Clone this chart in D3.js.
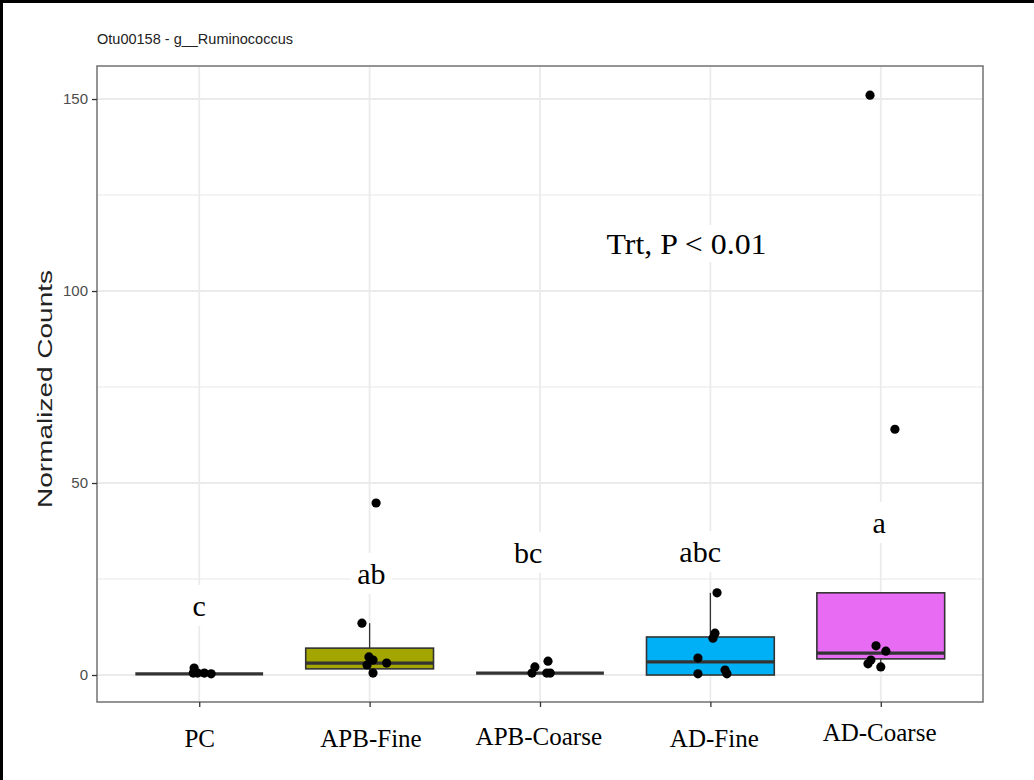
<!DOCTYPE html>
<html>
<head>
<meta charset="utf-8">
<script src="https://cdn.jsdelivr.net/npm/d3@7"></script>
<style>
html,body{margin:0;padding:0;background:#fff;}
svg{display:block;}
</style>
</head>
<body>
<svg id="chart" width="1034" height="780"></svg>
<script>
// ---- data ----
const categories = ["PC", "APB-Fine", "APB-Coarse", "AD-Fine", "AD-Coarse"];
const fills = ["#F8766D", "#A3A500", "#00BF7D", "#00B0F6", "#E76BF3"];
const q1 = [0.3, 1.6, 0.5, 0.0, 4.2];
const medians = [0.3, 3.1, 0.5, 3.4, 5.7];
const q3 = [0.3, 7.0, 0.5, 9.9, 21.4];
const whiskerLo = [0.3, 0.5, 0.5, 0.0, 2.1];
const whiskerHi = [0.3, 13.5, 0.5, 21.4, 21.4];
// jittered points: values and x-jitter (in category units)
const pointValues = [
  [1.8, 0.5, 0.5, 0.5, 0.3],
  [13.5, 4.7, 3.9, 2.6, 3.1, 0.5, 44.8],
  [2.1, 0.5, 3.6, 0.5, 0.5],
  [21.4, 10.9, 9.6, 4.4, 0.3, 1.3, 0.3],
  [151.0, 64.0, 7.6, 6.2, 3.9, 2.9, 2.1]
];
const pointJitter = [
  [-0.03, -0.035, -0.01, 0.03, 0.07],
  [-0.045, -0.004, 0.02, -0.015, 0.10, 0.02, 0.038],
  [-0.03, -0.047, 0.047, 0.04, 0.06],
  [0.039, 0.027, 0.015, -0.073, -0.073, 0.086, 0.097],
  [-0.063, 0.083, -0.028, 0.03, -0.058, -0.075, 0.0]
];
const letters = ["c", "ab", "bc", "abc", "a"];
const letterY = [15.4, 23.7, 29.2, 29.4, 37.0];
const letterShift = [0.0, 0.01, -0.07, -0.06, -0.01];
const xLabelShift = [0.0, 0.005, -0.01, 0.02, -0.01];
const xLabelRaise = [0, 0, 2, 0, 6];
const yTicks = [0, 50, 100, 150];
const yMinor = [25, 75, 125];
const titleText = "Otu00158 - g__Ruminococcus";
const yTitle = "Normalized Counts";
const statText = "Trt, P < 0.01";
const statPos = [2.86, 109.6];

// ---- layout ----
const svg = d3.select("#chart");
const P = {left: 97, right: 983, top: 66, bottom: 702};

const x = d3.scalePoint().domain(categories).range([P.left, P.right]).padding(0.6);
const step = x.step();
const xc = v => x(categories[0]) + v * step;
const y = d3.scaleLinear().domain([-7.03, 158.6]).range([P.bottom, P.top]);

// outer frame (top & left)
svg.append("line").attr("x1", 1.5).attr("x2", 1.5).attr("y1", 0).attr("y2", 780).attr("stroke", "#000").attr("stroke-width", 3);
svg.append("line").attr("x1", 0).attr("x2", 1034).attr("y1", 1.5).attr("y2", 1.5).attr("stroke", "#000").attr("stroke-width", 3);

// panel background
svg.append("rect").attr("x", P.left).attr("y", P.top).attr("width", P.right - P.left).attr("height", P.bottom - P.top).attr("fill", "#fff");

// gridlines
const g = svg.append("g");
g.selectAll(".minor").data(yMinor).join("line")
  .attr("x1", P.left).attr("x2", P.right)
  .attr("y1", d => y(d)).attr("y2", d => y(d))
  .attr("stroke", "#efefef").attr("stroke-width", 1.3);
g.selectAll(".major").data(yTicks).join("line")
  .attr("x1", P.left).attr("x2", P.right)
  .attr("y1", d => y(d)).attr("y2", d => y(d))
  .attr("stroke", "#ebebeb").attr("stroke-width", 1.8);
g.selectAll(".vgrid").data(categories).join("line")
  .attr("x1", d => x(d)).attr("x2", d => x(d))
  .attr("y1", P.top).attr("y2", P.bottom)
  .attr("stroke", "#ebebeb").attr("stroke-width", 1.8);

// annotation letters with white backgrounds
const ann = svg.append("g");
letters.forEach((t, i) => {
  const tx = ann.append("text")
    .attr("x", xc(i + letterShift[i])).attr("y", y(letterY[i]))
    .attr("text-anchor", "middle")
    .attr("font-family", "'Liberation Serif','Times New Roman',serif")
    .attr("font-size", 30).attr("fill", "#000").text(t);
  const bb = tx.node().getBBox();
  ann.insert("rect", "text").attr("x", bb.x - 6).attr("y", bb.y - 4).attr("width", bb.width + 12).attr("height", bb.height + 8).attr("fill", "#fff");
});
{
  const tx = ann.append("text")
    .attr("x", xc(statPos[0])).attr("y", y(statPos[1]))
    .attr("text-anchor", "middle")
    .attr("font-family", "'Liberation Serif','Times New Roman',serif")
    .attr("font-size", 30).attr("fill", "#000")
    .attr("textLength", 160).attr("lengthAdjust", "spacingAndGlyphs").text(statText);
  const bb = tx.node().getBBox();
  ann.insert("rect", "text").attr("x", bb.x - 4).attr("y", bb.y - 2).attr("width", bb.width + 8).attr("height", bb.height + 4).attr("fill", "#fff");
}

// boxplots
const bw = step * 0.75;
const boxes = svg.append("g");
categories.forEach((c, i) => {
  const cx = x(c);
  boxes.append("line").attr("x1", cx).attr("x2", cx).attr("y1", y(q3[i])).attr("y2", y(whiskerHi[i])).attr("stroke", "#333").attr("stroke-width", 1.3);
  boxes.append("line").attr("x1", cx).attr("x2", cx).attr("y1", y(q1[i])).attr("y2", y(whiskerLo[i])).attr("stroke", "#333").attr("stroke-width", 1.3);
  boxes.append("rect").attr("x", cx - bw / 2).attr("width", bw)
    .attr("y", y(q3[i])).attr("height", Math.max(0, y(q1[i]) - y(q3[i])))
    .attr("fill", fills[i]).attr("stroke", "#333").attr("stroke-width", 1.6);
  boxes.append("line").attr("x1", cx - bw / 2).attr("x2", cx + bw / 2).attr("y1", y(medians[i])).attr("y2", y(medians[i])).attr("stroke", "#333").attr("stroke-width", 3.2);
});

// points
const pts = svg.append("g");
pointValues.forEach((vals, i) => {
  pts.selectAll(null).data(vals.map((v, j) => ({v, j: pointJitter[i][j]}))).join("circle")
    .attr("cx", d => xc(i + d.j)).attr("cy", d => y(d.v)).attr("r", 4.6).attr("fill", "#000");
});

// panel border
svg.append("rect").attr("x", P.left).attr("y", P.top).attr("width", P.right - P.left).attr("height", P.bottom - P.top)
  .attr("fill", "none").attr("stroke", "#7a7a7a").attr("stroke-width", 1.6);

// y axis
const yAxis = svg.append("g").attr("transform", `translate(${P.left},0)`)
  .call(d3.axisLeft(y).tickValues(yTicks).tickSize(5).tickPadding(4));
yAxis.select(".domain").remove();
yAxis.selectAll(".tick line").attr("stroke", "#333").attr("stroke-width", 1.3);
yAxis.selectAll(".tick text").attr("font-family", "'Liberation Sans',Arial,sans-serif").attr("font-size", 15).attr("fill", "#4d4d4d");

// x axis
const xAxis = svg.append("g").attr("transform", `translate(0,${P.bottom})`)
  .call(d3.axisBottom(x).tickSize(5).tickPadding(22));
xAxis.select(".domain").remove();
xAxis.selectAll(".tick line").attr("stroke", "#333").attr("stroke-width", 1.3);
xAxis.selectAll(".tick text")
  .attr("font-family", "'Liberation Serif','Times New Roman',serif").attr("font-size", 25).attr("fill", "#000")
  .attr("transform", (d, i) => `translate(${xLabelShift[i] * step},${-xLabelRaise[i]})`);

// titles
svg.append("text").attr("x", 97).attr("y", 44)
  .attr("font-family", "'Liberation Sans',Arial,sans-serif").attr("font-size", 14)
  .attr("fill", "#222").attr("textLength", 196).attr("lengthAdjust", "spacingAndGlyphs").text(titleText);
svg.append("text").attr("transform", `translate(52,${(P.top + P.bottom) / 2 + 5}) rotate(-90)`)
  .attr("text-anchor", "middle")
  .attr("font-family", "'Liberation Sans',Arial,sans-serif").attr("font-size", 21)
  .attr("fill", "#222").attr("textLength", 238).attr("lengthAdjust", "spacingAndGlyphs").text(yTitle);
</script>
</body>
</html>
